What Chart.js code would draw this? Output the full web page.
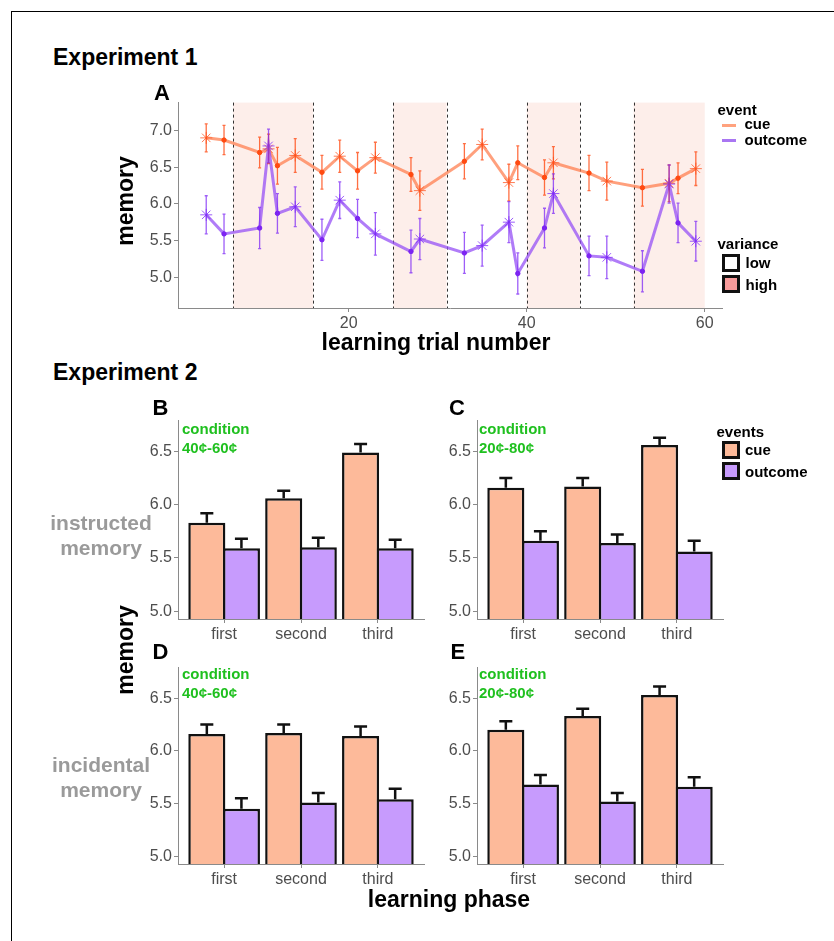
<!DOCTYPE html>
<html>
<head>
<meta charset="utf-8">
<script src="https://cdn.jsdelivr.net/npm/chart.js@4.4.1/dist/chart.umd.min.js"></script>
<style>
html, body { margin: 0; padding: 0; background: #fff; }
body { width: 834px; height: 941px; position: relative; overflow: hidden;
       font-family: 'Liberation Sans', Arial, Helvetica, sans-serif; }
canvas { position: absolute; }
.t { position: absolute; white-space: nowrap; }
#frame { position: absolute; left: 11px; top: 11px; width: 900px; height: 1000px;
         border-left: 1px solid #000; border-top: 1px solid #000; }
.key { position: absolute; }
.box { position: absolute; box-sizing: border-box; width: 18px; height: 18px; border: 3px solid #111; }
</style>
</head>
<body>
<div id="frame"></div>
<canvas id="chartA"></canvas>
<canvas id="chartB"></canvas>
<canvas id="chartC"></canvas>
<canvas id="chartD"></canvas>
<canvas id="chartE"></canvas>
<script>
'use strict';

const FONT = "'Liberation Sans', Arial, Helvetica, sans-serif";
Chart.defaults.font.family = FONT;
Chart.defaults.color = '#4D4D4D';
Chart.defaults.animation = false;

const AXIS_GREY = '#8A8A8A';
const TICK_GREY = '#4D4D4D';

// ---- Experiment 1 (panel A) ----
const trials = [4, 6, 10, 11, 12, 14, 17, 19, 21, 23, 27, 28, 33, 35, 38, 39, 42, 43, 47, 49, 53, 56, 57, 59];
const marks  = ['star','dot','dot','star','dot','star','dot','star','dot','star','dot','star',
                'dot','star','star','dot','dot','star','dot','star','dot','star','dot','star'];
const cueMem = [6.90, 6.87, 6.70, 6.75, 6.52, 6.66, 6.43, 6.65, 6.45, 6.63, 6.40, 6.18,
                6.58, 6.81, 6.29, 6.56, 6.36, 6.56, 6.42, 6.31, 6.22, 6.28, 6.35, 6.48];
const cueErr = [0.19, 0.20, 0.21, 0.20, 0.25, 0.23, 0.23, 0.22, 0.25, 0.21, 0.23, 0.27,
                0.24, 0.21, 0.25, 0.23, 0.24, 0.22, 0.24, 0.26, 0.25, 0.25, 0.21, 0.23];
const outMem = [5.85, 5.59, 5.67, 6.79, 5.87, 5.96, 5.51, 6.05, 5.80, 5.59, 5.35, 5.52,
                5.33, 5.43, 5.75, 5.05, 5.67, 6.14, 5.29, 5.27, 5.08, 6.27, 5.74, 5.49];
const outErr = [0.26, 0.27, 0.28, 0.23, 0.27, 0.27, 0.28, 0.25, 0.26, 0.29, 0.29, 0.28,
                0.28, 0.28, 0.28, 0.28, 0.27, 0.27, 0.27, 0.29, 0.28, 0.26, 0.27, 0.27];
const highFrom   = [7, 25, 40, 52];
const highTo     = [16, 31, 46, 60];
const blockEdges = [7, 16, 25, 31, 40, 46, 52];
const trialTicks = [20, 40, 60];
const memTicksA  = [5.0, 5.5, 6.0, 6.5, 7.0];

// ---- Experiment 2 (panels B-E) ----
const phases    = ['first', 'second', 'third'];
const memTicksB = [5.0, 5.5, 6.0, 6.5];
const cueB = [5.83, 6.06, 6.49], cueBse = [0.09, 0.07, 0.08];
const outB = [5.59, 5.60, 5.59], outBse = [0.09, 0.09, 0.08];
const cueC = [6.16, 6.17, 6.56], cueCse = [0.09, 0.08, 0.07];
const outC = [5.66, 5.64, 5.56], outCse = [0.09, 0.08, 0.10];
const cueD = [6.16, 6.17, 6.14], cueDse = [0.09, 0.08, 0.09];
const outD = [5.45, 5.51, 5.54], outDse = [0.10, 0.09, 0.10];
const cueE = [6.20, 6.33, 6.53], cueEse = [0.08, 0.07, 0.08];
const outE = [5.68, 5.52, 5.66], outEse = [0.09, 0.08, 0.09];

const PAD = 6;

function place(id, area, yw, xh) {
    const cv = document.getElementById(id);
    cv.width  = area.r - area.l + yw + PAD;
    cv.height = area.b - area.t + PAD + xh;
    cv.style.left = (area.l - yw) + 'px';
    cv.style.top  = (area.t - PAD) + 'px';
    return cv;
}

function txt(s, x, base, size, opts = {}) {
    const d = document.createElement('div');
    d.className = 't';
    d.textContent = s;
    d.style.fontSize = size + 'px';
    d.style.lineHeight = size + 'px';
    d.style.fontWeight = opts.bold ? 'bold' : 'normal';
    d.style.color = opts.color || '#000';
    d.style.left = x + 'px';
    d.style.top = (base - 0.8465 * size) + 'px';
    if (opts.center) d.style.transform = 'translateX(-50%)';
    document.body.appendChild(d);
    return d;
}

function vtxt(s, cx, cy, size) {
    const d = document.createElement('div');
    d.className = 't';
    d.textContent = s;
    d.style.fontSize = size + 'px';
    d.style.lineHeight = size + 'px';
    d.style.fontWeight = 'bold';
    d.style.left = cx + 'px';
    d.style.top = cy + 'px';
    d.style.transform = 'translate(-50%,-50%) rotate(-90deg)';
    document.body.appendChild(d);
}

function div(cls, x, y, w, h, bg) {
    const d = document.createElement('div');
    d.className = cls;
    d.style.left = x + 'px'; d.style.top = y + 'px';
    if (w) d.style.width = w + 'px';
    if (h) d.style.height = h + 'px';
    d.style.background = bg;
    document.body.appendChild(d);
}

// shaded high-variance blocks + dashed block edges
const blocksPlugin = {
    id: 'blocks',
    beforeDatasetsDraw(chart) {
        const { ctx, chartArea: a, scales: { x } } = chart;
        ctx.save();
        ctx.fillStyle = '#FDEEEA';
        highFrom.forEach((f, i) => {
            const x0 = x.getPixelForValue(f), x1 = x.getPixelForValue(highTo[i]);
            ctx.fillRect(x0, a.top, x1 - x0, a.bottom - a.top);
        });
        ctx.strokeStyle = '#333';
        ctx.lineWidth = 1;
        ctx.setLineDash([3, 3]);
        blockEdges.forEach(v => {
            const px = Math.round(x.getPixelForValue(v)) + 0.5;
            ctx.beginPath(); ctx.moveTo(px, a.top); ctx.lineTo(px, a.bottom); ctx.stroke();
        });
        ctx.restore();
    }
};

// error bars from dataset.err, using the element positions
const errPlugin = {
    id: 'err',
    afterDatasetsDraw(chart) {
        const { ctx, scales: { y } } = chart;
        chart.data.datasets.forEach((ds, di) => {
            if (!ds.err) return;
            const meta = chart.getDatasetMeta(di);
            ctx.save();
            ctx.strokeStyle = ds.errColor;
            ctx.lineWidth = ds.errWidth;
            ds.data.forEach((p, i) => {
                const el = meta.data[i];
                const px = el.x;
                const hi = y.getPixelForValue(p.y + ds.err[i]);
                const lo = ds.errBoth ? y.getPixelForValue(p.y - ds.err[i]) : y.getPixelForValue(p.y);
                const cap = ds.errCap;
                ctx.beginPath();
                ctx.moveTo(px, lo); ctx.lineTo(px, hi);
                ctx.moveTo(px - cap, hi); ctx.lineTo(px + cap, hi);
                if (ds.errBoth) { ctx.moveTo(px - cap, lo); ctx.lineTo(px + cap, lo); }
                ctx.stroke();
            });
            ctx.restore();
        });
    }
};

function tickOpts(cb, pad) {
    return { color: TICK_GREY, font: { size: 16 }, padding: pad, maxRotation: 0, autoSkip: false, callback: cb };
}
const gridOpts = { drawOnChartArea: false, tickLength: 4, color: AXIS_GREY, tickColor: AXIS_GREY };
const borderOpts = { color: AXIS_GREY, width: 1 };

// ---- Panel A ----
const areaA = { l: 178, r: 723, t: 97, b: 308 };
const cvA = place('chartA', areaA, 60, 30);

function lineSet(label, vals, errs, line, dot, star, errC, order) {
    return {
        label,
        data: trials.map((t, i) => ({ x: t, y: vals[i] })),
        err: errs, errBoth: true, errColor: errC, errWidth: 1.3, errCap: 1.5,
        borderColor: line, borderWidth: 3, tension: 0, order,
        pointStyle: marks.map(m => m === 'star' ? 'star' : 'circle'),
        pointRadius: marks.map(m => m === 'star' ? 6 : 2.2),
        pointBorderColor: marks.map(m => m === 'star' ? star : dot),
        pointBackgroundColor: dot,
        pointBorderWidth: 1,
    };
}

new Chart(cvA, {
    type: 'line',
    data: {
        datasets: [
            lineSet('cue', cueMem, cueErr, 'rgba(255,120,70,0.7)', '#FF4A10', 'rgba(255,90,40,0.8)', 'rgba(255,75,20,0.8)', 1),
            lineSet('outcome', outMem, outErr, 'rgba(150,80,245,0.75)', '#7B22F0', 'rgba(130,50,250,0.8)', 'rgba(125,40,245,0.75)', 0),
        ]
    },
    options: {
        responsive: false, animation: false,
        layout: { padding: { top: PAD, right: PAD, left: 0, bottom: 0 } },
        plugins: { legend: { display: false }, tooltip: { enabled: false } },
        scales: {
            x: {
                type: 'linear', min: 0.83, max: 61.94,
                afterBuildTicks: s => { s.ticks = trialTicks.map(v => ({ value: v })); },
                afterFit: s => { s.height = 30; },
                ticks: tickOpts(v => v, 2), grid: gridOpts, border: borderOpts,
            },
            y: {
                min: 4.579, max: 7.381,
                afterBuildTicks: s => { s.ticks = memTicksA.map(v => ({ value: v })); },
                afterFit: s => { s.width = 60; },
                ticks: tickOpts(v => v.toFixed(1), 2), grid: gridOpts, border: borderOpts,
            }
        }
    },
    plugins: [blocksPlugin, errPlugin]
});

// ---- Panels B-E ----
const Y_MIN = 4.926, Y_MAX = 6.79;

function barPanel(id, area, cue, cueSe, out, outSe) {
    const cv = place(id, area, 50, 28);
    const mk = (label, vals, se, fill) => ({
        label,
        data: vals.map((v, i) => ({ x: i + 1, y: v })),
        err: se, errBoth: false, errColor: '#111', errWidth: 2.5, errCap: 6.5,
        backgroundColor: fill, borderColor: '#111', borderWidth: 2.5,
        base: Y_MIN, categoryPercentage: 0.9, barPercentage: 1.072,
    });
    return new Chart(cv, {
        type: 'bar',
        data: { datasets: [mk('cue', cue, cueSe, '#FDBA9A'), mk('outcome', out, outSe, '#C79BFD')] },
        options: {
            responsive: false, animation: false,
            layout: { padding: { top: PAD, right: PAD, left: 0, bottom: 0 } },
            plugins: { legend: { display: false }, tooltip: { enabled: false } },
            scales: {
                x: {
                    type: 'linear', min: 0.4, max: 3.6, offset: false,
                    afterBuildTicks: s => { s.ticks = phases.map((p, i) => ({ value: i + 1 })); },
                    afterFit: s => { s.height = 28; },
                    ticks: tickOpts(v => phases[Math.round(v) - 1], 2),
                    grid: Object.assign({ offset: false }, gridOpts), border: borderOpts,
                },
                y: {
                    min: Y_MIN, max: Y_MAX, beginAtZero: false,
                    afterBuildTicks: s => { s.ticks = memTicksB.map(v => ({ value: v })); },
                    afterFit: s => { s.width = 50; },
                    ticks: tickOpts(v => v.toFixed(1), 2), grid: gridOpts, border: borderOpts,
                }
            }
        },
        plugins: [errPlugin]
    });
}

barPanel('chartB', { l: 178, r: 424, t: 415, b: 619 }, cueB, cueBse, outB, outBse);
barPanel('chartC', { l: 477, r: 723, t: 415, b: 619 }, cueC, cueCse, outC, outCse);
barPanel('chartD', { l: 178, r: 424, t: 662, b: 864 }, cueD, cueDse, outD, outDse);
barPanel('chartE', { l: 477, r: 723, t: 662, b: 864 }, cueE, cueEse, outE, outEse);

// ---- text ----
txt('Experiment 1', 53, 65, 23, { bold: true });
txt('Experiment 2', 53, 380, 23, { bold: true });
txt('A', 154, 101, 22, { bold: true });
txt('B', 152.5, 416, 22, { bold: true });
txt('C', 449, 416, 22, { bold: true });
txt('D', 152.5, 660, 22, { bold: true });
txt('E', 450.5, 660, 22, { bold: true });

const GREEN = '#1FC01F';
[[182, 434, '40¢-60¢'], [479, 434, '20¢-80¢'], [182, 679, '40¢-60¢'], [479, 679, '20¢-80¢']].forEach(([x, b, s]) => {
    txt('condition', x, b, 15, { bold: true, color: GREEN });
    txt(s, x, b + 19, 15, { bold: true, color: GREEN });
});

const GREY = '#9A9A9A';
txt('instructed', 101, 530, 21, { bold: true, color: GREY, center: true });
txt('memory', 101, 555, 21, { bold: true, color: GREY, center: true });
txt('incidental', 101, 772, 21, { bold: true, color: GREY, center: true });
txt('memory', 101, 797, 21, { bold: true, color: GREY, center: true });

txt('learning trial number', 436, 350, 23, { bold: true, center: true });
txt('learning phase', 449, 907, 23, { bold: true, center: true });
vtxt('memory', 125, 201, 23);
vtxt('memory', 125, 650, 23);

// legend A
txt('event', 717.5, 114.3, 15, { bold: true });
div('key', 722, 123.5, 14, 3, '#FFA27E');
txt('cue', 744.5, 129, 15, { bold: true });
div('key', 722, 139.2, 14, 3, '#A976F2');
txt('outcome', 744.5, 144.5, 15, { bold: true });
txt('variance', 717.5, 249, 15, { bold: true });
div('box', 721.5, 253.5, 0, 0, '#FFFFFF');
div('box', 721.5, 275, 0, 0, '#F89B9B');
txt('low', 745.5, 267.5, 15, { bold: true });
txt('high', 745.5, 289.5, 15, { bold: true });

// legend C
txt('events', 716.5, 436.7, 15, { bold: true });
div('box', 721.5, 441, 0, 0, '#FDBA9A');
div('box', 721.5, 461.5, 0, 0, '#C79BFD');
txt('cue', 745, 455, 15, { bold: true });
txt('outcome', 745, 476.7, 15, { bold: true });
</script>
</body>
</html>
